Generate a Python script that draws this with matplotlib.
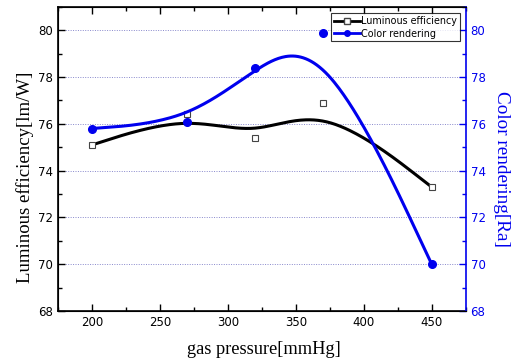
import numpy as np
import matplotlib
matplotlib.use("Agg")
import matplotlib.pyplot as plt
from matplotlib.lines import Line2D
from matplotlib.ticker import MultipleLocator

pressure = [200, 270, 320, 370, 450]
luminous = [75.1, 76.4, 75.4, 76.9, 73.3]
color_rendering = [75.8, 76.1, 78.4, 79.9, 70.0]


def bspline(xs, ys, n=60):
    """Uniform cubic B-spline with tripled end control points."""
    P = np.column_stack([xs, ys]).astype(float)
    P = np.vstack([P[0], P[0]] + list(P) + [P[-1], P[-1]])
    t = np.linspace(0, 1, n)
    b0 = (1 - t) ** 3 / 6
    b1 = (3 * t ** 3 - 6 * t ** 2 + 4) / 6
    b2 = (-3 * t ** 3 + 3 * t ** 2 + 3 * t + 1) / 6
    b3 = t ** 3 / 6
    pts = []
    for i in range(len(P) - 3):
        seg = (np.outer(b0, P[i]) + np.outer(b1, P[i + 1]) +
               np.outer(b2, P[i + 2]) + np.outer(b3, P[i + 3]))
        pts.append(seg)
    C = np.vstack(pts)
    return C[:, 0], C[:, 1]


fig = plt.figure(figsize=(5.14, 3.6), dpi=100)
ax = fig.add_axes([0.113, 0.136, 0.793, 0.845])
ax2 = ax.twinx()

bx, by = bspline(pressure, luminous)
cx, cy = bspline(pressure, color_rendering)

ax.plot(bx, by, color="black", lw=2.2, zorder=3)
ax.plot(pressure, luminous, ls="none", marker="s", ms=5, mfc="white", mec="#444444", mew=0.8, zorder=4)
ax2.plot(cx, cy, color="#0000ee", lw=2.2, zorder=3)
ax2.plot(pressure, color_rendering, ls="none", marker="o", ms=5.5, color="#0000ee", zorder=4)

for a in (ax, ax2):
    a.set_xlim(175, 475)
    a.set_ylim(68, 81)
    a.yaxis.set_major_locator(MultipleLocator(2))
    a.yaxis.set_minor_locator(MultipleLocator(1))

ax.xaxis.set_major_locator(MultipleLocator(50))
ax.xaxis.set_minor_locator(MultipleLocator(25))
ax.set_yticks([68, 70, 72, 74, 76, 78, 80])
ax2.set_yticks([68, 70, 72, 74, 76, 78, 80])

for yv in [70, 72, 74, 76, 78, 80]:
    ax.axhline(yv, color="#8888cc", lw=0.7, ls=(0, (1, 1.5)), zorder=1)

ax.tick_params(axis="both", which="both", direction="in", top=True, right=False, labelsize=8.5)
ax.tick_params(which="major", length=5, width=1)
ax.tick_params(which="minor", length=3, width=1)
ax2.tick_params(axis="y", which="both", direction="in", colors="#0000ee", labelsize=8.5)
ax2.tick_params(axis="y", which="major", length=5, width=1)
ax2.tick_params(axis="y", which="minor", length=3, width=1)

for s in ["left", "bottom", "top"]:
    ax.spines[s].set_linewidth(1.2)
ax2.spines["right"].set_color("#0000ee")
ax2.spines["right"].set_linewidth(1.2)
ax.spines["right"].set_visible(False)

lab_font = "Liberation Serif"
ax.set_xlabel("gas pressure[mmHg]", family=lab_font, fontsize=13.2)
ax.set_ylabel("Luminous efficiency[lm/W]", family=lab_font, fontsize=13.5)
ax2.set_ylabel("Color rendering[Ra]", family=lab_font, fontsize=13.8, color="#0000ee",
               rotation=270, va="bottom")
ax.xaxis.set_label_coords(0.505, -0.1)
ax.yaxis.set_label_coords(-0.058, 0.44)
ax2.yaxis.set_label_coords(1.066, 0.467)

handles = [
    Line2D([], [], color="black", lw=2, marker="s", ms=4, mfc="white", mec="#444444"),
    Line2D([], [], color="#0000ee", lw=2, marker="o", ms=4),
]
leg = ax2.legend(handles, ["Luminous efficiency", "Color rendering"], loc="upper right",
                 bbox_to_anchor=(0.99, 0.985), fontsize=6.9, frameon=True, fancybox=False,
                 edgecolor="black", borderpad=0.3, handlelength=2.7, handletextpad=0.1,
                 labelspacing=0.25, borderaxespad=0.2)
leg.get_frame().set_linewidth(0.8)

fig.savefig("out.png", dpi=100)
